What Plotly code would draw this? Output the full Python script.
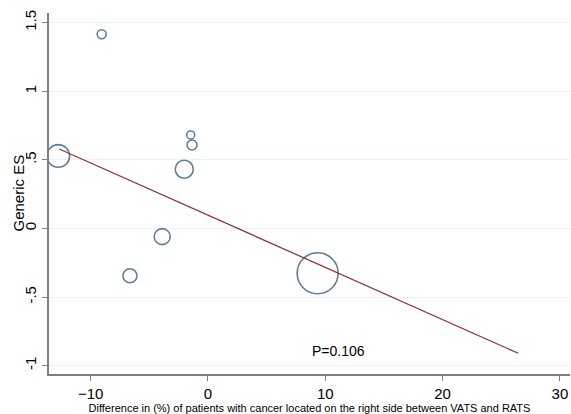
import plotly.graph_objects as go

# Study-level effect sizes against difference in % right-sided cancers
diff_pct = [-9.06, -12.76, -1.47, -1.36, -2.02, -3.90, -6.65, 9.35]
generic_es = [1.415, 0.528, 0.681, 0.608, 0.431, -0.060, -0.345, -0.327]
study_weight = [8.1, 51.5, 6.4, 10.0, 32.4, 25.6, 19.6, 168.0]

# Meta-regression fitted line (endpoints)
fit_x = [-12.68, 26.45]
fit_y = [0.579, -0.910]

x_ticks = [-10, 0, 10, 20, 30]
y_ticks = [-1, -0.5, 0, 0.5, 1, 1.5]
y_tick_text = ["-1", "-.5", "0", ".5", "1", "1.5"]
p_label = "P=0.106"

navy = "#1a476f"
maroon = "#90353b"
axis_grey = "#7f7f7f"
grid_col = "#eaf2f3"
font_family = "Liberation Sans, Arial, sans-serif"

fig = go.Figure()
fig.add_trace(go.Scatter(
    x=diff_pct, y=generic_es, mode="markers",
    marker=dict(size=study_weight, sizemode="area", sizeref=0.2,
                color="rgba(0,0,0,0)", line=dict(color=navy, width=1.6)),
    showlegend=False, hoverinfo="x+y",
))
fig.add_trace(go.Scatter(
    x=fit_x, y=fit_y, mode="lines",
    line=dict(color=maroon, width=1.3), showlegend=False,
))
fig.add_annotation(x=11.1, y=-0.894, text=p_label, showarrow=False,
                   font=dict(size=14, color="black", family=font_family))
# Vertical y-axis title placed close to the tick labels
fig.add_annotation(xref="paper", yref="paper", x=0, y=0.5, xshift=-31,
                   xanchor="center", yanchor="middle",
                   text="Generic ES", textangle=-90, showarrow=False,
                   font=dict(size=15, color="black", family=font_family))

fig.update_layout(
    width=571, height=414,
    margin=dict(l=49, r=1, t=13, b=40),
    paper_bgcolor="white", plot_bgcolor="white",
    font=dict(family=font_family, color="black"),
)
fig.update_xaxes(
    range=[-13.55, 30.86], tickvals=x_ticks, ticks="outside", ticklen=5,
    tickcolor=axis_grey, tickwidth=1.3,
    showline=True, linecolor=axis_grey, linewidth=1.5,
    showgrid=False, zeroline=False, tickfont=dict(size=15),
    title=dict(text="Difference in (%) of patients with cancer located on the right side between VATS and RATS",
               font=dict(size=11), standoff=1),
)
fig.update_yaxes(
    range=[-1.061, 1.57], tickvals=y_ticks, ticktext=y_tick_text,
    tickangle=-90, ticks="outside", ticklen=5,
    tickcolor=axis_grey, tickwidth=1.3,
    showline=True, linecolor=axis_grey, linewidth=1.5,
    showgrid=True, gridcolor=grid_col, gridwidth=1.3,
    zeroline=False, tickfont=dict(size=15),
)

fig.write_html("out.html")
